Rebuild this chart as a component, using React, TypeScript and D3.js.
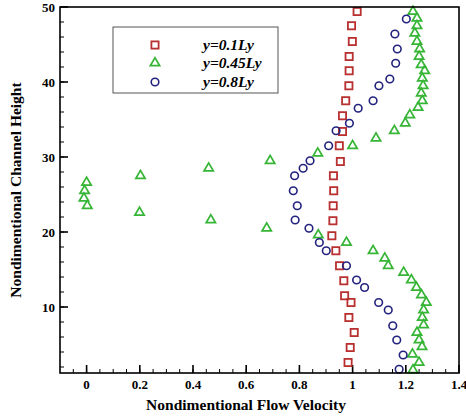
import React from "react";
import * as d3 from "d3";

const xTicks = [0, 0.2, 0.4, 0.6, 0.8, 1, 1.2, 1.4];
const yTicks = [10, 20, 30, 40, 50];

const seriesNames = ["y=0.1Ly", "y=0.45Ly", "y=0.8Ly"];

// y = 0.1Ly (squares): [velocity, height]
const sq: [number, number][] = [
  [0.983, 2.6], [0.991, 4.6], [1.006, 6.6], [0.986, 8.6], [0.994, 10.6],
  [0.970, 11.5], [0.967, 13.5], [0.951, 15.5], [0.937, 17.5], [0.922, 19.5],
  [0.926, 21.5], [0.927, 23.5], [0.929, 25.5], [0.928, 27.5], [0.954, 29.4],
  [0.950, 31.5], [0.962, 33.4], [0.962, 35.5], [0.974, 37.5], [0.986, 39.5],
  [0.987, 41.5], [0.987, 43.4], [0.999, 45.4], [0.996, 47.5], [1.017, 49.4],
];

// y = 0.45Ly (triangles)
const tri: [number, number][] = [
  [1.227, 1.6], [1.25, 2.6], [1.225, 3.7], [1.261, 4.7], [1.25, 5.6],
  [1.242, 6.6], [1.267, 7.6], [1.262, 8.6], [1.267, 9.6], [1.277, 10.6],
  [1.259, 11.6], [1.24, 12.6], [1.221, 13.6], [1.192, 14.6], [1.134, 15.5],
  [1.121, 16.5], [1.077, 17.5], [0.977, 18.6], [0.871, 19.6], [0.677, 20.5],
  [0.467, 21.6], [0.199, 22.6], [0.0025, 23.5], [-0.01, 24.5], [-0.0075, 25.5],
  [0.0, 26.6], [0.2025, 27.5], [0.459, 28.5], [0.69, 29.5], [0.869, 30.5],
  [1.0, 31.5], [1.088, 32.5], [1.157, 33.5], [1.198, 34.5], [1.215, 35.6],
  [1.246, 36.6], [1.262, 37.5], [1.258, 38.5], [1.265, 39.5], [1.262, 40.5],
  [1.271, 41.5], [1.258, 42.3], [1.25, 43.4], [1.252, 44.4], [1.242, 45.4],
  [1.234, 46.5], [1.242, 47.5], [1.242, 48.5], [1.227, 49.4],
];

// y = 0.8Ly (circles)
const circ: [number, number][] = [
  [1.175, 1.7], [1.19, 3.6], [1.166, 5.6], [1.151, 7.5], [1.134, 9.6],
  [1.098, 10.6], [1.045, 12.6], [1.015, 13.6], [0.977, 15.5], [0.901, 17.5],
  [0.875, 18.6], [0.836, 20.5], [0.784, 21.6], [0.792, 23.5], [0.777, 25.5],
  [0.782, 27.5], [0.814, 28.5], [0.84, 29.5], [0.91, 31.5], [0.938, 33.5],
  [0.988, 34.5], [1.021, 36.5], [1.077, 37.5], [1.099, 39.5], [1.14, 40.4],
  [1.162, 42.5], [1.168, 44.4], [1.159, 46.4], [1.202, 48.4],
];

const RED = "#b8302f";
const GREEN = "#36b536";
const BLUE = "#23237e";

const W = 466, H = 417;
const L = 60, R = 459, T = 7, B = 373;

export default function App() {
  const x = d3.scaleLinear().domain([-0.1, 1.4]).range([L, R]);
  const y = d3.scaleLinear().domain([1.2, 50]).range([B, T]);

  const xMinor = d3.range(-2, 29).map((i) => i * 0.05).filter((v) => v > -0.1 && v < 1.4);
  const yMinor = d3.range(1, 25).map((i) => i * 2);

  const font = "'Liberation Serif', 'Times New Roman', serif";

  const square = (cx: number, cy: number, k: string, col: string) => (
    <rect key={k} x={cx - 3.6} y={cy - 3.6} width={7.2} height={7.2} fill="none" stroke={col} strokeWidth={1.8} />
  );
  const triangle = d3.symbol().type(d3.symbolTriangle).size(38);
  const triPath = triangle() as string;
  const triangleM = (cx: number, cy: number, k: string, col: string) => (
    <path key={k} d={triPath} transform={`translate(${cx},${cy})`} fill="none" stroke={col} strokeWidth={1.7} />
  );
  const circle = (cx: number, cy: number, k: string, col: string) => (
    <circle key={k} cx={cx} cy={cy} r={3.8} fill="none" stroke={col} strokeWidth={1.6} />
  );

  return (
    <svg width={W} height={H} style={{ position: "absolute", left: 0, top: 0, background: "#fff" }}>
      <rect x={0} y={0} width={W} height={H} fill="#fff" />
      {/* minor ticks */}
      {xMinor.map((v, i) => (
        <line key={"xm" + i} x1={x(v)} x2={x(v)} y1={B} y2={B - 4} stroke="#000" strokeWidth={1} />
      ))}
      {yMinor.map((v, i) => (
        <line key={"ym" + i} x1={L} x2={L + 4} y1={y(v)} y2={y(v)} stroke="#000" strokeWidth={1} />
      ))}
      {/* major ticks + labels */}
      {xTicks.map((v) => (
        <g key={"xt" + v}>
          <line x1={x(v)} x2={x(v)} y1={B} y2={B - 8} stroke="#000" strokeWidth={1.6} />
          <text x={x(v)} y={B + 16} textAnchor="middle" fontFamily={font} fontWeight="bold" fontSize={13}>
            {String(v)}
          </text>
        </g>
      ))}
      {yTicks.map((v) => (
        <g key={"yt" + v}>
          <line x1={L} x2={L + 8} y1={y(v)} y2={y(v)} stroke="#000" strokeWidth={1.6} />
          <text x={L - 5} y={y(v) + 4.5} textAnchor="end" fontFamily={font} fontWeight="bold" fontSize={13}>
            {String(v)}
          </text>
        </g>
      ))}
      {/* data */}
      {sq.map((d, i) => square(x(d[0]), y(d[1]), "s" + i, RED))}
      {tri.map((d, i) => triangleM(x(d[0]), y(d[1]), "t" + i, GREEN))}
      {circ.map((d, i) => circle(x(d[0]), y(d[1]), "c" + i, BLUE))}
      {/* frame */}
      <rect x={L} y={T} width={R - L} height={B - T} fill="none" stroke="#000" strokeWidth={1.6} />
      {/* legend */}
      <rect x={113} y={27} width={165} height={66} fill="#fff" stroke="#555" strokeWidth={1} />
      {square(155, 45, "ls", RED)}
      {triangleM(155, 63, "lt", GREEN)}
      {circle(155, 82, "lc", BLUE)}
      {seriesNames.map((n, i) => (
        <text key={n} x={203} y={[45, 63, 82][i] + 5} fontFamily={font} fontWeight="bold" fontStyle="italic" fontSize={15.5}>
          {n}
        </text>
      ))}
      {/* axis titles */}
      <text x={246} y={410} textAnchor="middle" fontFamily={font} fontWeight="bold" fontSize={15.5}>
        Nondimentional Flow Velocity
      </text>
      <text transform={`translate(21,190) rotate(-90)`} textAnchor="middle" fontFamily={font} fontWeight="bold" fontSize={15.5}>
        Nondimentional Channel Height
      </text>
    </svg>
  );
}
